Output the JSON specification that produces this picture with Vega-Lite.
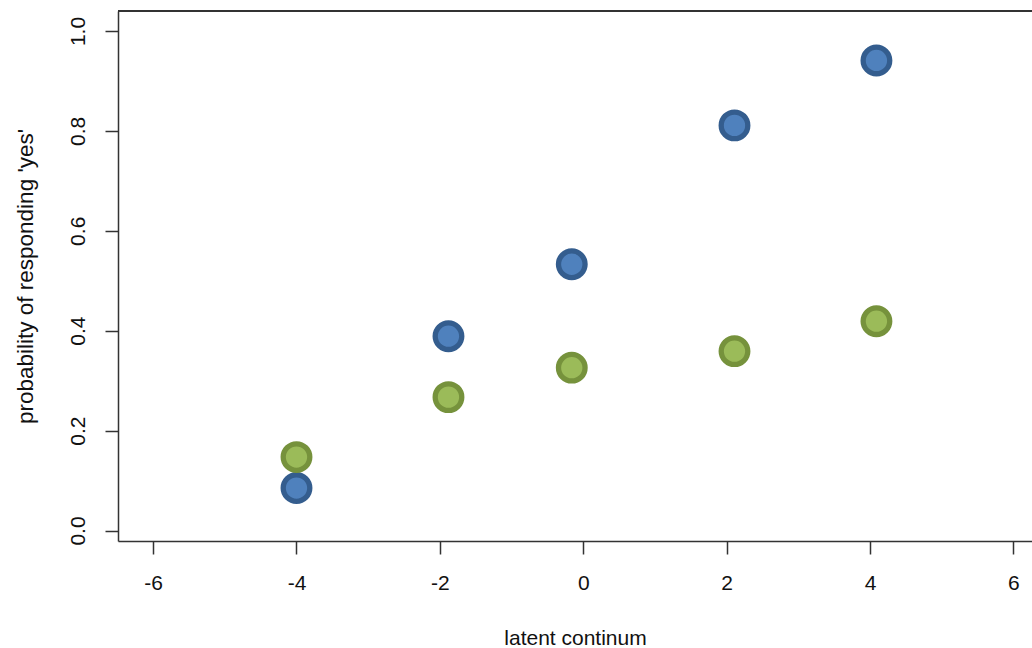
{
  "$schema": "https://vega.github.io/schema/vega-lite/v6.json",
  "autosize": {"type": "none"},
  "padding": {"left": 118, "top": 11, "right": 0, "bottom": 107},
  "width": 914,
  "height": 530,
  "background": "white",
  "config": {
    "view": {"stroke": null},
    "font": "Liberation Sans",
    "axis": {
      "domainColor": "#333333",
      "domainWidth": 1.5,
      "tickColor": "#333333",
      "tickWidth": 1.5,
      "tickSize": 13,
      "grid": false,
      "labelFont": "Liberation Sans",
      "labelFontSize": 21,
      "labelColor": "#111111",
      "titleFont": "Liberation Sans",
      "titleFontSize": 21,
      "titleFontWeight": "normal",
      "titleColor": "#111111"
    }
  },
  "data": {
    "values": [
      {"x": -4.0, "p": 0.085, "group": "A"},
      {"x": -1.88, "p": 0.389, "group": "A"},
      {"x": -0.16, "p": 0.533, "group": "A"},
      {"x": 2.11, "p": 0.811, "group": "A"},
      {"x": 4.09, "p": 0.941, "group": "A"},
      {"x": -4.0, "p": 0.147, "group": "B"},
      {"x": -1.88, "p": 0.267, "group": "B"},
      {"x": -0.16, "p": 0.326, "group": "B"},
      {"x": 2.11, "p": 0.359, "group": "B"},
      {"x": 4.09, "p": 0.419, "group": "B"}
    ]
  },
  "layer": [
    {
      "mark": {"type": "rule", "color": "#333333", "strokeWidth": 1.5},
      "encoding": {"y": {"datum": 1.04, "type": "quantitative"}}
    },
    {
      "mark": {"type": "point", "shape": "circle", "filled": false, "size": 707, "strokeWidth": 5.3, "opacity": 1, "fillOpacity": 1},
      "encoding": {
        "x": {
          "field": "x", "type": "quantitative",
          "scale": {"domain": [-6.49, 6.26], "nice": false, "zero": false},
          "axis": {"values": [-6, -4, -2, 0, 2, 4, 6], "labelExpr": "replace(datum.label, '−', '-')", "title": "latent continum", "labelPadding": 18, "titlePadding": 34, "labelFlush": false}
        },
        "y": {
          "field": "p", "type": "quantitative",
          "scale": {"domain": [-0.021, 1.04], "nice": false, "zero": false},
          "axis": {"values": [0, 0.2, 0.4, 0.6, 0.8, 1.0], "format": ".1f", "labelAngle": -90, "labelAlign": "center", "labelBaseline": "bottom", "labelPadding": 17, "title": "probability of responding 'yes'", "titleFontSize": 22.5, "titlePadding": 30, "labelFlush": false}
        },
        "fill": {"field": "group", "type": "nominal", "scale": {"domain": ["A", "B"], "range": ["#4F81BD", "#9BBB59"]}, "legend": null},
        "stroke": {"field": "group", "type": "nominal", "scale": {"domain": ["A", "B"], "range": ["#345D8E", "#76923C"]}, "legend": null}
      }
    }
  ]
}
